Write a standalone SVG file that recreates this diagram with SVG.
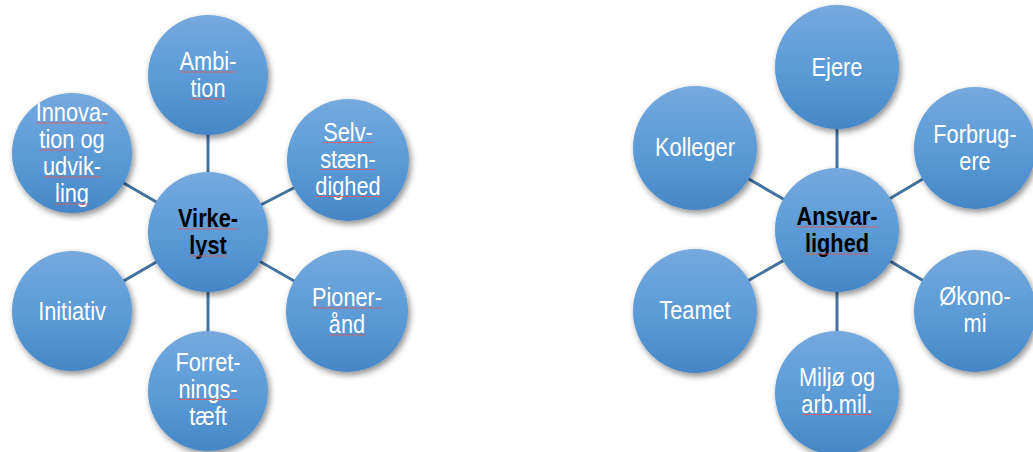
<svg xmlns="http://www.w3.org/2000/svg" width="1033" height="452" viewBox="0 0 1033 452">
<defs>
<linearGradient id="g" x1="0" y1="0" x2="0" y2="1">
<stop offset="0" stop-color="#76a9dd"/>
<stop offset="0.55" stop-color="#5a9ad6"/>
<stop offset="1" stop-color="#4686c6"/>
</linearGradient>
<filter id="sh" x="-20%" y="-20%" width="150%" height="150%">
<feDropShadow dx="2" dy="3" stdDeviation="3" flood-color="#000" flood-opacity="0.45"/>
</filter>
</defs>
<style>
.c{fill:url(#g);filter:url(#sh)}
.t{font-family:"Liberation Sans",Arial,sans-serif;font-size:25px;fill:#fff;text-anchor:middle}
.b{font-family:"Liberation Sans",Arial,sans-serif;font-size:25px;font-weight:bold;fill:#000;text-anchor:middle}
.l{stroke:#44729f;stroke-width:3;fill:none}
.u{stroke:#e05a5a;stroke-width:1;fill:none;opacity:0.85}
</style>
<rect width="1033" height="452" fill="#fff"/>
<g id="connectors">
<line class="l" x1="208" y1="232" x2="208" y2="75"/>
<line class="l" x1="208" y1="232" x2="348" y2="160"/>
<line class="l" x1="208" y1="232" x2="347" y2="311"/>
<line class="l" x1="208" y1="232" x2="208" y2="391"/>
<line class="l" x1="208" y1="232" x2="72" y2="311"/>
<line class="l" x1="208" y1="232" x2="72" y2="153"/>
<line class="l" x1="837" y1="230" x2="837" y2="67"/>
<line class="l" x1="837" y1="230" x2="975" y2="148"/>
<line class="l" x1="837" y1="230" x2="975" y2="311"/>
<line class="l" x1="837" y1="230" x2="837" y2="393"/>
<line class="l" x1="837" y1="230" x2="695" y2="311"/>
<line class="l" x1="837" y1="230" x2="695" y2="148"/>
</g>
<g id="virkelyst">
<circle class="c" cx="208" cy="232" r="60"/>
<text class="b" transform="translate(208,0) scale(0.87,1)"><tspan x="0" y="227.5">Virke-</tspan><tspan x="0" y="254.5">lyst</tspan></text>
<line class="u" x1="177.8" y1="229" x2="238.2" y2="229"/>
<line class="u" x1="189.3" y1="256" x2="226.7" y2="256"/>
</g>
<g id="ambition">
<circle class="c" cx="208" cy="75" r="60"/>
<text class="t" transform="translate(208,0) scale(0.87,1)"><tspan x="0" y="70.5">Ambi-</tspan><tspan x="0" y="97.5">tion</tspan></text>
<line class="u" x1="179.6" y1="72" x2="236.4" y2="72"/>
<line class="u" x1="190.5" y1="99" x2="225.5" y2="99"/>
</g>
<g id="selvstaendighed">
<circle class="c" cx="348" cy="160" r="61"/>
<text class="t" transform="translate(348,0) scale(0.87,1)"><tspan x="0" y="141">Selv-</tspan><tspan x="0" y="168">stæn-</tspan><tspan x="0" y="195">dighed</tspan></text>
<line class="u" x1="323.2" y1="142.5" x2="372.8" y2="142.5"/>
<line class="u" x1="320.2" y1="169.5" x2="375.8" y2="169.5"/>
<line class="u" x1="315.4" y1="196.5" x2="380.6" y2="196.5"/>
</g>
<g id="pionerand">
<circle class="c" cx="347" cy="311" r="61"/>
<text class="t" transform="translate(347,0) scale(0.87,1)"><tspan x="0" y="306.5">Pioner-</tspan><tspan x="0" y="333.5">ånd</tspan></text>
<line class="u" x1="312" y1="308" x2="382" y2="308"/>
<line class="u" x1="328.9" y1="335" x2="365.1" y2="335"/>
</g>
<g id="forretningstaeft">
<circle class="c" cx="208" cy="391" r="60"/>
<text class="t" transform="translate(208,0) scale(0.87,1)"><tspan x="0" y="371">Forret-</tspan><tspan x="0" y="398">nings-</tspan><tspan x="0" y="425">tæft</tspan></text>
<line class="u" x1="178.4" y1="399.5" x2="237.6" y2="399.5"/>
</g>
<g id="initiativ">
<circle class="c" cx="72" cy="311" r="60"/>
<text class="t" transform="translate(72,0) scale(0.87,1)"><tspan x="0" y="320">Initiativ</tspan></text>
</g>
<g id="innovation">
<circle class="c" cx="72" cy="153" r="60"/>
<text class="t" transform="translate(72,0) scale(0.87,1)"><tspan x="0" y="121.5">Innova-</tspan><tspan x="0" y="148.5">tion og</tspan><tspan x="0" y="175.5">udvik-</tspan><tspan x="0" y="202.5">ling</tspan></text>
<line class="u" x1="35.7" y1="123" x2="108.3" y2="123"/>
<line class="u" x1="39.4" y1="150" x2="74.5" y2="150"/>
<line class="u" x1="43" y1="177" x2="101" y2="177"/>
<line class="u" x1="55.1" y1="204" x2="88.9" y2="204"/>
</g>
<g id="ansvarlighed">
<circle class="c" cx="837" cy="230" r="62"/>
<text class="b" transform="translate(837,0) scale(0.87,1)"><tspan x="0" y="225.5">Ansvar-</tspan><tspan x="0" y="252.5">lighed</tspan></text>
<line class="u" x1="796.5" y1="227" x2="877.5" y2="227"/>
<line class="u" x1="805" y1="254" x2="869" y2="254"/>
</g>
<g id="ejere">
<circle class="c" cx="837" cy="67" r="62"/>
<text class="t" transform="translate(837,0) scale(0.87,1)"><tspan x="0" y="76">Ejere</tspan></text>
</g>
<g id="forbrugere">
<circle class="c" cx="975" cy="148" r="61"/>
<text class="t" transform="translate(975,0) scale(0.87,1)"><tspan x="0" y="143.5">Forbrug-</tspan><tspan x="0" y="170.5">ere</tspan></text>
</g>
<g id="okonomi">
<circle class="c" cx="975" cy="311" r="61"/>
<text class="t" transform="translate(975,0) scale(0.87,1)"><tspan x="0" y="305.5">Økono-</tspan><tspan x="0" y="332.5">mi</tspan></text>
</g>
<g id="miljo">
<circle class="c" cx="837" cy="393" r="62"/>
<text class="t" transform="translate(837,0) scale(0.87,1)"><tspan x="0" y="386">Miljø og</tspan><tspan x="0" y="413">arb.mil.</tspan></text>
<line class="u" x1="801.4" y1="414.5" x2="872.6" y2="414.5"/>
</g>
<g id="teamet">
<circle class="c" cx="695" cy="311" r="62"/>
<text class="t" transform="translate(695,0) scale(0.87,1)"><tspan x="0" y="319">Teamet</tspan></text>
</g>
<g id="kolleger">
<circle class="c" cx="695" cy="148" r="62"/>
<text class="t" transform="translate(695,0) scale(0.87,1)"><tspan x="0" y="156">Kolleger</tspan></text>
</g>
</svg>
